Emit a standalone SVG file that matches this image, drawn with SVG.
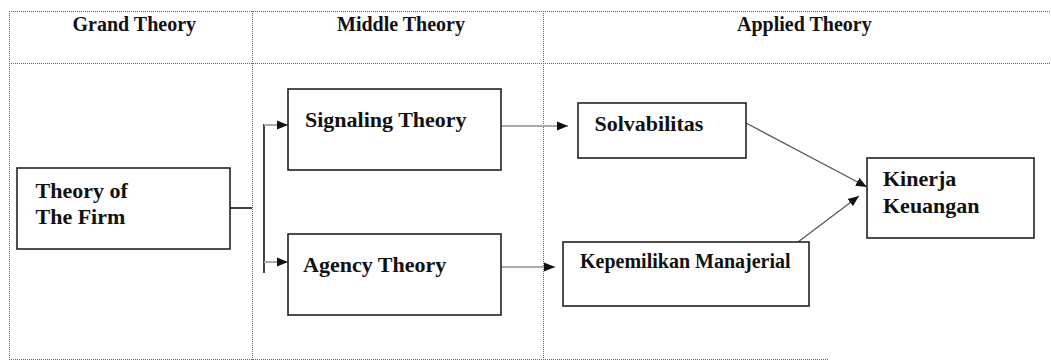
<svg xmlns="http://www.w3.org/2000/svg" width="1051" height="361" viewBox="0 0 1051 361">
<style>
.grid{stroke:#666;stroke-width:1;stroke-dasharray:1 1;fill:none}
.box{fill:#fff;stroke:#222;stroke-width:1.6}
.hd{font-family:"Liberation Serif","Times New Roman",serif;font-weight:bold;font-size:20px;fill:#111}
.tx{font-family:"Liberation Serif","Times New Roman",serif;font-weight:bold;font-size:22px;fill:#111}
.sm{font-size:20px}
.blk{stroke:#111;stroke-width:1.6;fill:none}
.gry{stroke:#aaa;stroke-width:2;fill:none}
.dg{stroke:#555;stroke-width:1.2;fill:none}
</style>
<defs>
<marker id="ah" markerUnits="userSpaceOnUse" markerWidth="12" markerHeight="10" refX="11" refY="5" orient="auto">
<path d="M0,0.5 L11,5 L0,9.5 z" fill="#111"/>
</marker>
</defs>
<rect width="1051" height="361" fill="#fff"/>
<g id="grid">
<line class="grid" x1="9" y1="11.5" x2="1051" y2="11.5"/>
<line class="grid" x1="9" y1="63.5" x2="1051" y2="63.5"/>
<line class="grid" x1="9.5" y1="11" x2="9.5" y2="360"/>
<line class="grid" x1="252.5" y1="11" x2="252.5" y2="360"/>
<line class="grid" x1="543.5" y1="11" x2="543.5" y2="360"/>
<line class="grid" x1="9" y1="359.5" x2="829" y2="359.5"/>
<text class="hd" x="72.5" y="31">Grand Theory</text>
<text class="hd" x="337" y="31">Middle Theory</text>
<text class="hd" x="737" y="31">Applied Theory</text>
</g>
<g id="connectors">
<polyline class="blk" points="230,208 252,208"/>
<line class="blk" x1="264" y1="124" x2="264" y2="273"/>
<line class="gry" x1="264" y1="125" x2="288" y2="125" marker-end="url(#ah)"/>
<line class="gry" x1="264" y1="262" x2="288" y2="262" marker-end="url(#ah)"/>
<line class="gry" x1="501" y1="126" x2="568" y2="126" marker-end="url(#ah)"/>
<line class="gry" x1="501" y1="267" x2="555" y2="267" marker-end="url(#ah)"/>
<line class="dg" x1="746" y1="123" x2="867" y2="187" marker-end="url(#ah)"/>
<line class="dg" x1="798" y1="242" x2="859" y2="196" marker-end="url(#ah)"/>
</g>
<g id="firm">
<rect class="box" x="17" y="168" width="213" height="81"/>
<text class="tx" x="35.5" y="198">Theory of</text>
<text class="tx" x="35.5" y="224">The Firm</text>
</g>
<g id="signaling">
<rect class="box" x="288" y="89" width="213" height="81"/>
<text class="tx" x="305" y="127">Signaling Theory</text>
</g>
<g id="agency">
<rect class="box" x="288" y="234" width="213" height="81"/>
<text class="tx" x="303" y="272">Agency Theory</text>
</g>
<g id="solvabilitas">
<rect class="box" x="578" y="103" width="168" height="55"/>
<text class="tx" x="594.5" y="131">Solvabilitas</text>
</g>
<g id="kepemilikan">
<rect class="box" x="563" y="242" width="246" height="64"/>
<text class="tx sm" x="580" y="268">Kepemilikan Manajerial</text>
</g>
<g id="kinerja">
<rect class="box" x="867" y="158" width="167" height="80"/>
<text class="tx" x="883" y="186">Kinerja</text>
<text class="tx" x="883" y="213">Keuangan</text>
</g>
</svg>
